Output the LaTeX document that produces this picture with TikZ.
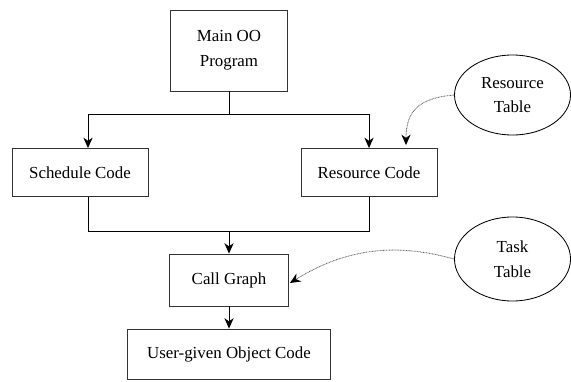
\documentclass[tikz,border=0pt]{standalone}
\usepackage{fontspec}
\setmainfont{Liberation Serif}
\usetikzlibrary{arrows.meta, calc, shapes.geometric}

\begin{document}
\begin{tikzpicture}[x=0.025cm, y=-0.025cm,
    font=\fontsize{12}{17.5}\selectfont,
    caja/.style={draw=black!80, line width=0.6pt, inner sep=0pt, align=center},
    tabla/.style={ellipse, draw=black, line width=0.6pt, inner sep=0pt, align=center,
                  minimum width=2.9cm},
    linea/.style={draw=black, line width=0.6pt},
    flecha/.style={linea, -{Stealth[length=2.6mm, width=2.3mm, inset=0.8mm]}},
    puntos/.style={draw=black!60, dash pattern=on 0.6pt off 0.5pt, line width=0.6pt,
                   -{Stealth[length=2.6mm, width=2.3mm, inset=0.8mm, black]}}]
  \useasboundingbox (0,0) rectangle (571,381);
  \node[caja, minimum width=2.925cm, minimum height=2.025cm] (main) at (229,50.5) {Main OO\\Program};
  \node[caja, minimum width=3.4cm, minimum height=1.2cm] (sched) at (80,172.5) {Schedule Code};
  \node[caja, minimum width=3.4cm, minimum height=1.2cm] (res) at (369,172.5) {Resource Code};
  \node[caja, minimum width=2.975cm, minimum height=1.3cm] (call) at (229,280) {Call Graph};
  \node[caja, minimum width=5.075cm, minimum height=1.25cm] (user) at (229,354) {User-given Object Code};
  \node[tabla, minimum height=2cm] (restab) at (512.5,95) {Resource\\Table};
  \node[tabla, minimum height=2.1cm] (tasktab) at (512.5,259) {Task\\Table};

  \coordinate (rama) at (229,114); % bifurcacion
  \coordinate (junta) at (229,231); % union
  \coordinate (schedpto) at ($(sched.north)+(8,0)$);
  \coordinate (schedsal) at ($(sched.south)+(8,0)$);
  \coordinate (respto) at ($(res.north)+(37,-3)$);
  \coordinate (callpto) at ($(call.east)+(1,3)$);

  \draw[linea] (main.south) -- (rama);
  \draw[flecha] (rama) -| (schedpto);
  \draw[flecha] (rama) -| (res.north);
  \draw[linea] (schedsal) |- (junta);
  \draw[linea] (res.south) |- (junta);
  \draw[flecha] (junta) -- (call.north);
  \draw[flecha] (call.south) -- (user.north);

  % tablas
  \draw[puntos] (restab.west) .. controls (420,98) and (406,110) .. (respto);
  \draw[puntos] (tasktab.west) .. controls (400,244) and (350,246) .. (callpto);
\end{tikzpicture}
\end{document}
